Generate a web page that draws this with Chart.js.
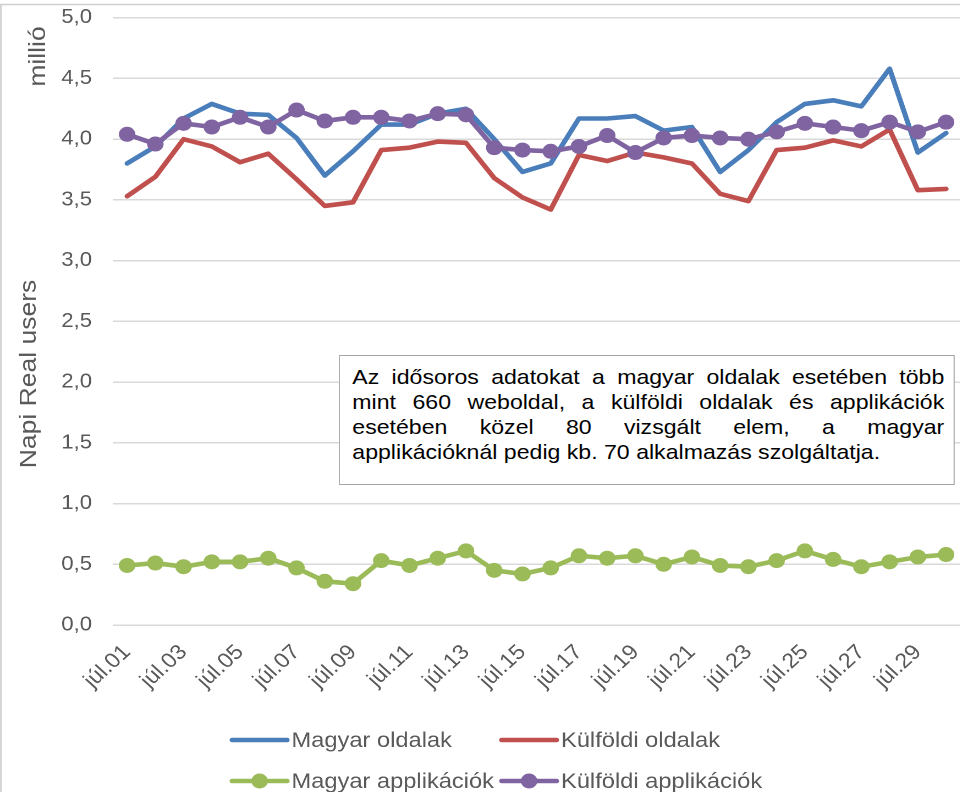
<!DOCTYPE html>
<html><head><meta charset="utf-8">
<script src="https://cdn.jsdelivr.net/npm/chart.js@4.4.0/dist/chart.umd.min.js"></script>
<style>
html,body{margin:0;padding:0;background:#fff;overflow:hidden;width:960px;height:792px}
#clip{position:absolute;left:0;top:0;width:960px;height:792px;overflow:hidden}
#wrap{position:absolute;left:0;top:0;width:893px;height:792px;transform:scaleX(1.1);transform-origin:0 0}
#c{position:absolute;left:0;top:0}
#note{position:absolute;left:308px;top:355px;width:560px;height:130px;box-sizing:border-box;border:1.4px solid #A6A6A6;background:#fff;padding:8px 8.6px 0 11.3px;font-family:"Liberation Sans",Arial,sans-serif;font-size:21px;line-height:25px;color:#000}
#note div{text-align:justify;text-align-last:justify}
#note div.last{text-align:left;text-align-last:left;white-space:nowrap}
</style></head>
<body>
<div id="clip"><div id="wrap">
<canvas id="c" width="893" height="792"></canvas>
<div id="note">
<div>Az idősoros adatokat a magyar oldalak esetében több</div>
<div>mint 660 weboldal, a külföldi oldalak és applikációk</div>
<div>esetében közel 80 vizsgált elem, a magyar</div>
<div class="last">applikációknál pedig kb. 70 alkalmazás szolgáltatja.</div>
</div>
</div></div>
<script>
const categories = ["júl.01","júl.02","júl.03","júl.04","júl.05","júl.06","júl.07","júl.08","júl.09","júl.10",
  "júl.11","júl.12","júl.13","júl.14","júl.15","júl.16","júl.17","júl.18","júl.19","júl.20",
  "júl.21","júl.22","júl.23","júl.24","júl.25","júl.26","júl.27","júl.28","júl.29","júl.30"];
const magyarOldalak = [3.80,3.94,4.17,4.29,4.21,4.20,4.01,3.70,3.90,4.12,4.12,4.21,4.25,4.00,3.73,3.80,4.17,4.17,4.19,4.07,4.10,3.73,3.91,4.14,4.29,4.32,4.27,4.58,3.89,4.05];
const kulfoldiOldalak = [3.53,3.69,4.00,3.94,3.81,3.88,3.67,3.45,3.48,3.91,3.93,3.98,3.97,3.68,3.52,3.42,3.87,3.82,3.89,3.85,3.80,3.55,3.49,3.91,3.93,3.99,3.94,4.08,3.58,3.59];
const magyarApplikaciok = [0.49,0.51,0.48,0.52,0.52,0.55,0.47,0.36,0.34,0.53,0.49,0.55,0.61,0.45,0.42,0.47,0.57,0.55,0.57,0.50,0.56,0.49,0.48,0.53,0.61,0.54,0.48,0.52,0.56,0.58];
const kulfoldiApplikaciok = [4.04,3.96,4.13,4.10,4.18,4.10,4.24,4.15,4.18,4.18,4.15,4.21,4.20,3.93,3.91,3.90,3.94,4.03,3.89,4.01,4.03,4.01,4.00,4.06,4.13,4.10,4.07,4.14,4.06,4.14];
const seriesNames = ["Magyar oldalak","Külföldi oldalak","Magyar applikációk","Külföldi applikációk"];
const yTickMin = 0, yTickMax = 5, yTickStep = 0.5;
const yTitle = "Napi Real users", yUnit = "millió";

const FONT = '"Liberation Sans", Arial, sans-serif';
const GRAY = '#595959';
const colors = ['#4A7EBB','#C0504D','#9BBB59','#8064A2'];

function ds(i, data, marker, order){
  return {label: seriesNames[i], data, borderColor: colors[i], backgroundColor: colors[i],
    borderWidth: 4.6, pointRadius: marker ? 7.5 : 0, pointHoverRadius: marker ? 7.5 : 0,
    pointBorderWidth: 0, pointBackgroundColor: colors[i], tension: 0,
    borderJoinStyle: 'round', borderCapStyle: 'round', order, clip: false};
}

const extras = {
  id: 'extras',
  beforeDraw(chart){
    const ctx = chart.ctx;
    ctx.save();
    ctx.strokeStyle = '#CFCFCF';
    ctx.lineWidth = 1.5;
    ctx.beginPath(); ctx.moveTo(0, 4.5); ctx.lineTo(chart.width, 4.5); ctx.stroke();
    ctx.lineWidth = 1.4;
    ctx.beginPath(); ctx.moveTo(0.8, 4.5); ctx.lineTo(0.8, chart.height); ctx.stroke();
    ctx.restore();
  },
  afterDraw(chart){
    const ctx = chart.ctx;
    ctx.save();
    ctx.fillStyle = GRAY;
    const titles = [[yTitle, 32.7, 374], [yUnit, 40.9, 56.5]];
    titles.forEach(([t, x, y]) => {
      ctx.save();
      ctx.translate(x, y); ctx.rotate(-Math.PI/2); ctx.scale(1, 0.79);
      ctx.font = '26.5px ' + FONT; ctx.textAlign = 'center'; ctx.textBaseline = 'alphabetic';
      ctx.fillText(t, 0, 0);
      ctx.restore();
    });
    const pos = [[211, 740], [456, 740], [211, 781], [456, 781]];
    chart.data.datasets.forEach((d, i) => {
      const [x, y] = pos[i];
      ctx.strokeStyle = d.borderColor; ctx.lineWidth = 4.6; ctx.lineCap = 'round';
      ctx.beginPath(); ctx.moveTo(x, y); ctx.lineTo(x + 50, y); ctx.stroke();
      if (d.pointRadius > 0) {
        ctx.fillStyle = d.borderColor;
        ctx.beginPath(); ctx.arc(x + 25, y, d.pointRadius, 0, Math.PI*2); ctx.fill();
      }
      ctx.fillStyle = GRAY; ctx.font = '21.5px ' + FONT;
      ctx.textAlign = 'left'; ctx.textBaseline = 'middle';
      ctx.fillText(d.label, x + 54, y + 1);
    });
    ctx.restore();
  }
};

new Chart(document.getElementById('c'), {
  type: 'line',
  data: {
    labels: categories,
    datasets: [
      ds(0, magyarOldalak, false, 4),
      ds(1, kulfoldiOldalak, false, 3),
      ds(2, magyarApplikaciok, true, 2),
      ds(3, kulfoldiApplikaciok, true, 1)
    ]
  },
  options: {
    responsive: false, animation: false, devicePixelRatio: 2,
    layout: {autoPadding: false, padding: {left: 0, right: 6.4, top: 17.7, bottom: 0}},
    plugins: {legend: {display: false}, tooltip: {enabled: false}},
    scales: {
      x: {
        offset: true,
        grid: {display: false, drawTicks: false},
        border: {display: false},
        afterFit(s){ s.height = 167; },
        ticks: {autoSkip: false, minRotation: 45, maxRotation: 45, padding: 15,
          color: GRAY, font: {family: FONT, size: 21},
          callback(v, i){ return i % 2 === 0 ? categories[i] : ''; }}
      },
      y: {
        min: yTickMin, max: yTickMax,
        grid: {color: '#D9D9D9', lineWidth: 1.5, drawTicks: true, tickLength: 19.1, tickColor: 'rgba(0,0,0,0)'},
        border: {display: false},
        afterFit(s){ s.width = 102.7; },
        ticks: {stepSize: yTickStep, padding: 0, color: GRAY, font: {family: FONT, size: 20},
          callback(v){ return v.toFixed(1).replace('.', ','); }}
      }
    }
  },
  plugins: [extras]
});
</script>
</body></html>
